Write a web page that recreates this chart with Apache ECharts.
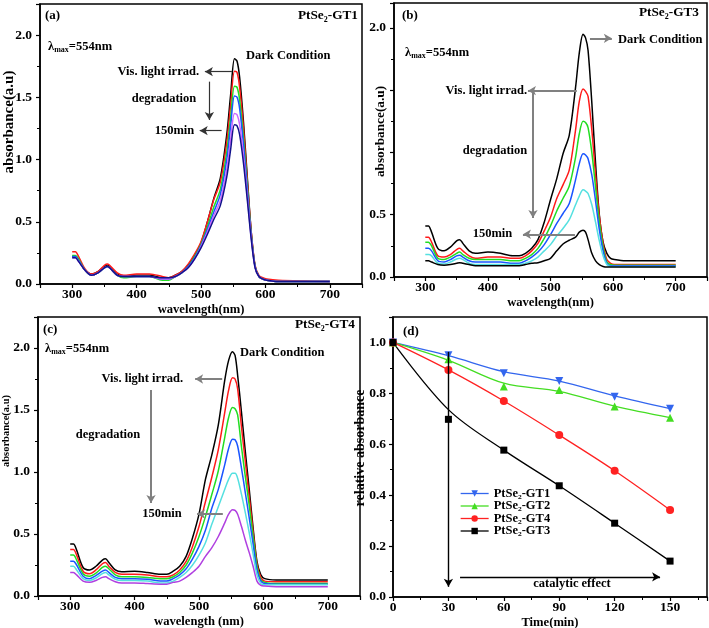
<!DOCTYPE html>
<html>
<head>
<meta charset="utf-8">
<script src="https://cdn.jsdelivr.net/npm/echarts@6.0.0/dist/echarts.min.js"></script>
<style>
html,body{margin:0;padding:0;background:#fff;}
#chart{width:709px;height:628px;}
</style>
</head>
<body>
<div id="chart"></div>
<script>
// ---------- data ----------
const W = [300,305,310,320,330,340,350,355,360,370,380,400,420,440,450,460,470,480,490,500,510,520,530,540,546,552,556,560,566,572,578,584,590,596,602,620,700];

// (a) PtSe2-GT1
const aDark    = [0.22,0.22,0.19,0.11,0.08,0.10,0.14,0.15,0.13,0.08,0.06,0.07,0.07,0.05,0.05,0.07,0.10,0.15,0.23,0.33,0.50,0.69,0.85,1.20,1.52,1.81,1.79,1.66,1.30,0.85,0.42,0.14,0.06,0.04,0.03,0.02,0.02];
const aRed     = [0.26,0.26,0.22,0.12,0.08,0.10,0.15,0.16,0.14,0.09,0.07,0.08,0.08,0.06,0.05,0.07,0.10,0.16,0.24,0.34,0.50,0.68,0.82,1.14,1.44,1.71,1.70,1.58,1.25,0.82,0.42,0.15,0.07,0.05,0.04,0.03,0.02];
const aGreen   = [0.23,0.23,0.20,0.11,0.07,0.09,0.13,0.14,0.12,0.07,0.05,0.06,0.06,0.03,0.03,0.06,0.09,0.14,0.22,0.32,0.46,0.62,0.76,1.06,1.34,1.59,1.58,1.48,1.17,0.78,0.40,0.14,0.06,0.04,0.03,0.02,0.02];
const aBlue    = [0.22,0.22,0.19,0.11,0.07,0.09,0.13,0.14,0.12,0.07,0.06,0.06,0.06,0.04,0.04,0.06,0.09,0.14,0.21,0.31,0.44,0.58,0.72,1.00,1.27,1.51,1.50,1.41,1.12,0.75,0.39,0.14,0.06,0.04,0.03,0.02,0.02];
const aMagenta = [0.21,0.21,0.18,0.11,0.07,0.09,0.13,0.14,0.12,0.07,0.06,0.06,0.06,0.04,0.04,0.06,0.09,0.13,0.20,0.30,0.42,0.55,0.67,0.92,1.16,1.37,1.36,1.28,1.03,0.70,0.37,0.13,0.06,0.04,0.03,0.02,0.02];
const aNavy    = [0.21,0.21,0.18,0.11,0.07,0.09,0.13,0.14,0.12,0.07,0.06,0.06,0.06,0.05,0.05,0.06,0.09,0.13,0.20,0.29,0.40,0.52,0.63,0.86,1.08,1.28,1.27,1.20,0.97,0.67,0.36,0.13,0.06,0.04,0.03,0.02,0.02];

// (b) PtSe2-GT3
const bDark    = [0.41,0.41,0.36,0.23,0.21,0.24,0.29,0.30,0.27,0.21,0.19,0.20,0.19,0.17,0.17,0.19,0.23,0.30,0.44,0.62,0.79,0.99,1.14,1.52,1.80,1.95,1.92,1.82,1.40,0.91,0.50,0.28,0.19,0.15,0.14,0.13,0.13];
const bRed     = [0.32,0.32,0.28,0.17,0.16,0.18,0.22,0.23,0.21,0.17,0.15,0.16,0.16,0.15,0.15,0.17,0.21,0.27,0.37,0.48,0.63,0.74,0.86,1.18,1.41,1.51,1.49,1.45,1.18,0.82,0.49,0.27,0.14,0.11,0.10,0.10,0.10];
const bGreen   = [0.28,0.28,0.25,0.15,0.14,0.16,0.19,0.20,0.18,0.15,0.14,0.14,0.14,0.13,0.13,0.15,0.18,0.23,0.31,0.41,0.53,0.63,0.73,0.96,1.15,1.25,1.24,1.20,1.00,0.72,0.44,0.24,0.12,0.10,0.095,0.095,0.095];
const bBlue    = [0.23,0.23,0.21,0.13,0.12,0.14,0.17,0.175,0.16,0.13,0.12,0.12,0.12,0.11,0.11,0.13,0.16,0.20,0.26,0.34,0.43,0.51,0.59,0.78,0.91,0.99,0.98,0.95,0.82,0.61,0.38,0.21,0.11,0.09,0.09,0.09,0.09];
const bCyan    = [0.18,0.18,0.17,0.11,0.105,0.12,0.145,0.15,0.14,0.11,0.10,0.10,0.10,0.10,0.10,0.11,0.13,0.16,0.21,0.26,0.33,0.39,0.46,0.58,0.65,0.70,0.69,0.67,0.58,0.44,0.29,0.17,0.10,0.085,0.085,0.085,0.085];
const b150     = [0.13,0.13,0.12,0.10,0.095,0.10,0.11,0.115,0.11,0.10,0.09,0.09,0.09,0.09,0.09,0.10,0.11,0.115,0.13,0.15,0.21,0.265,0.295,0.32,0.36,0.376,0.36,0.30,0.19,0.13,0.10,0.085,0.08,0.08,0.08,0.08,0.08];

// (c) PtSe2-GT4
const cDark    = [0.42,0.42,0.37,0.23,0.21,0.24,0.29,0.30,0.27,0.21,0.195,0.20,0.19,0.175,0.175,0.20,0.24,0.32,0.47,0.66,0.94,1.14,1.38,1.74,1.90,1.97,1.94,1.78,1.48,1.16,0.86,0.55,0.28,0.17,0.14,0.13,0.13];
const cRed     = [0.375,0.375,0.33,0.20,0.18,0.21,0.26,0.27,0.24,0.19,0.175,0.175,0.17,0.155,0.155,0.17,0.21,0.28,0.40,0.56,0.76,0.96,1.18,1.48,1.66,1.76,1.75,1.67,1.36,1.08,0.80,0.52,0.26,0.15,0.12,0.115,0.115];
const cGreen   = [0.33,0.33,0.29,0.18,0.16,0.185,0.23,0.24,0.22,0.17,0.155,0.155,0.15,0.14,0.14,0.155,0.19,0.25,0.35,0.48,0.64,0.82,1.01,1.28,1.44,1.52,1.51,1.46,1.20,0.96,0.73,0.48,0.24,0.13,0.11,0.10,0.10];
const cBlue    = [0.28,0.28,0.25,0.16,0.14,0.165,0.20,0.21,0.19,0.15,0.14,0.14,0.135,0.12,0.12,0.14,0.17,0.22,0.30,0.40,0.53,0.71,0.86,1.06,1.19,1.265,1.26,1.21,1.03,0.83,0.63,0.42,0.21,0.12,0.10,0.095,0.095];
const cCyan    = [0.24,0.24,0.21,0.14,0.125,0.145,0.18,0.19,0.17,0.135,0.125,0.125,0.12,0.105,0.105,0.12,0.15,0.19,0.25,0.33,0.43,0.58,0.72,0.86,0.94,0.99,0.99,0.95,0.82,0.67,0.51,0.34,0.17,0.10,0.09,0.09,0.09];
const cMagenta = [0.19,0.19,0.17,0.12,0.11,0.125,0.15,0.155,0.14,0.115,0.105,0.105,0.10,0.095,0.095,0.11,0.12,0.15,0.19,0.24,0.32,0.39,0.48,0.59,0.66,0.695,0.69,0.66,0.56,0.45,0.35,0.24,0.12,0.085,0.08,0.075,0.075];

// (d) relative absorbance vs time
const T = [0,30,60,90,120,150];
const gt1 = [1.0,0.950,0.879,0.849,0.787,0.740];
const gt2 = [1.0,0.934,0.827,0.813,0.748,0.704];
const gt4 = [1.0,0.892,0.770,0.636,0.496,0.342];
const gt3 = [1.0,0.698,0.577,0.437,0.290,0.141];
const gt1Fit = [1.0,0.948,0.885,0.848,0.790,0.740];
const gt2Fit = [1.0,0.930,0.840,0.808,0.750,0.705];
const gt4Fit = [1.0,0.892,0.770,0.636,0.496,0.342];
const gt3Fit = [1.0,0.736,0.577,0.437,0.290,0.141];

// ---------- styling ----------
const FONT = "'Liberation Serif','Times New Roman',serif";
const AX = {color:'#000', width:1.5};

function xAxisW(gi, name, gap) {
  return {
    type:'value', gridIndex:gi, min:250, max:750, splitNumber:5,
    name:name, nameLocation:'middle', nameGap:gap,
    nameTextStyle:{fontFamily:FONT, fontWeight:'bold', fontSize:12.6, color:'#000'},
    axisLine:{show:true, onZero:false, lineStyle:AX},
    axisTick:{show:true, length:4, lineStyle:{color:'#000', width:1.2}},
    minorTick:{show:true, splitNumber:2, length:3, lineStyle:{color:'#000', width:1}},
    splitLine:{show:false}, minorSplitLine:{show:false},
    axisLabel:{margin:4, fontFamily:FONT, fontWeight:'bold', fontSize:13.5, color:'#000',
      formatter:v => (v>=300 && v<=700 && Math.abs(v%100)<1e-6) ? String(Math.round(v)) : ''}
  };
}
function yAxisA(gi, max, hide) {
  return {
    type:'value', gridIndex:gi, min:0, max:max, interval:0.5,
    axisLine:{show:true, onZero:false, lineStyle:AX},
    axisTick:{show:true, length:4, lineStyle:{color:'#000', width:1.2}},
    minorTick:{show:true, splitNumber:2, length:3, lineStyle:{color:'#000', width:1}},
    splitLine:{show:false},
    axisLabel:{margin:8, fontFamily:FONT, fontWeight:'bold', fontSize:13.5, color:'#000',
      formatter:v => (v<=2.0001 && hide.indexOf(Math.round(v*10)/10)<0) ? v.toFixed(1) : ''}
  };
}

function spec(gi, arr, color, z) {
  return {
    type:'line', xAxisIndex:gi, yAxisIndex:gi,
    data: W.map((w,i)=>[w, arr[i]]),
    symbol:'none', showSymbol:false, smooth:0.3, silent:true,
    lineStyle:{color:color, width:1.5}, itemStyle:{color:color}, z:z||2
  };
}
function arrows(list, color, width) {
  return {
    silent:true, symbol:['none','arrow'], symbolSize:[7,8], animation:false,
    label:{show:false},
    lineStyle:{color:color, width:width, type:'solid'},
    emphasis:{disabled:true},
    data:list.map(p => [{coord:p[0]},{coord:p[1]}])
  };
}

function TXT(x,y,text,size,align,extra) {
  return Object.assign({type:'text', x:x, y:y, silent:true,
    style:{text:text, fontSize:size, fontWeight:'bold', fontFamily:FONT, fill:'#000',
      align:align||'left', verticalAlign:'middle'}}, extra||{});
}
function YT(x,y,text,size) {
  return {type:'text', x:x, y:y, rotation:Math.PI/2, silent:true,
    style:{text:text, fontSize:size, fontWeight:'bold', fontFamily:FONT, fill:'#000',
      align:'center', verticalAlign:'middle'}};
}
function LAM(x,y) {
  return {type:'text', x:x, y:y, silent:true,
    style:{text:'{l|λ}{s|max}{l|=554nm}', align:'left', verticalAlign:'middle',
      rich:{
        l:{fontSize:12.5, fontWeight:'bold', fontFamily:FONT, fill:'#000'},
        s:{fontSize:8, fontWeight:'bold', fontFamily:FONT, fill:'#000', verticalAlign:'bottom', padding:[4,0,0,0]}
      }}};
}

const GRID = {show:true, borderColor:'#000', borderWidth:1.5, backgroundColor:'transparent', containLabel:false, outerBoundsMode:'none'};

const series = [];
// (a)
const sa = spec(0, aDark, '#000000');
sa.markLine = arrows([
  [[548,1.706],[506,1.706]],
  [[513,1.626],[513,1.318]],
  [[532,1.232],[498,1.232]]
], '#333', 1.2);
series.push(sa, spec(0,aRed,'#ff1a1a'), spec(0,aGreen,'#22dd22'), spec(0,aBlue,'#1a55ff'),
  spec(0,aMagenta,'#cc66ff'), spec(0,aNavy,'#12128c',3));
// (b)
const sb = spec(1, bDark, '#000000');
sb.markLine = arrows([
  [[563,1.916],[598,1.916]],
  [[542,1.496],[464,1.496]],
  [[472,1.477],[472,0.474]],
  [[539,0.343],[456,0.343]]
], '#808080', 2);
series.push(sb, spec(1,bRed,'#ff1a1a'), spec(1,bGreen,'#22dd22'), spec(1,bBlue,'#1a55ff'),
  spec(1,bCyan,'#55e0e0'), spec(1,b150,'#000000'));
// (c)
const sc = spec(2, cDark, '#000000');
sc.markLine = arrows([
  [[536,1.75],[494,1.75]],
  [[425.5,1.661],[425.5,0.75]],
  [[537,0.661],[497,0.661]]
], '#808080', 2);
series.push(sc, spec(2,cRed,'#ff1a1a'), spec(2,cGreen,'#22dd22'), spec(2,cBlue,'#1a55ff'),
  spec(2,cCyan,'#55e0e0'), spec(2,cMagenta,'#b040e0'));

// (d)
const D = [
  {name:'PtSe₂-GT1', m:gt1, f:gt1Fit, color:'#3366ee', symbol:'triangle', rot:180},
  {name:'PtSe₂-GT2', m:gt2, f:gt2Fit, color:'#44dd22', symbol:'triangle', rot:0},
  {name:'PtSe₂-GT4', m:gt4, f:gt4Fit, color:'#ff2222', symbol:'circle', rot:0},
  {name:'PtSe₂-GT3', m:gt3, f:gt3Fit, color:'#000000', symbol:'rect', rot:0}
];
D.forEach((d,k) => {
  const fit = {type:'line', xAxisIndex:3, yAxisIndex:3, data:T.map((t,i)=>[t,d.f[i]]),
    symbol:'none', showSymbol:false, smooth:0.35, silent:true,
    lineStyle:{color:d.color, width:1.3}, itemStyle:{color:d.color}, z:3};
  if (k===0) {
    fit.markLine = arrows([
      [[30,0.963],[30,0.04]],
      [[36.3,0.079],[144.6,0.079]]
    ], '#000', 1.4);
  }
  series.push(fit);
  series.push({type:'line', name:d.name, xAxisIndex:3, yAxisIndex:3, data:T.map((t,i)=>[t,d.m[i]]),
    symbol:d.symbol, symbolRotate:d.rot, symbolSize:d.symbol==='rect'?7:8, showSymbol:true,
    lineStyle:{color:d.color, width:1.3, opacity:0}, itemStyle:{color:d.color}, z:4});
});

const option = {
  animation:false,
  backgroundColor:'#fff',
  grid:[
    Object.assign({left:40, top:4, width:322, height:280}, GRID),
    Object.assign({left:394, top:3, width:313, height:274}, GRID),
    Object.assign({left:38, top:317, width:322, height:279}, GRID),
    Object.assign({left:393, top:317, width:314, height:280}, GRID)
  ],
  xAxis:[
    xAxisW(0,'wavelength(nm)',16),
    xAxisW(1,'wavelength(nm)',18),
    xAxisW(2,'wavelength (nm)',19),
    {
      type:'value', gridIndex:3, min:0, max:170, interval:30,
      name:'Time(min)', nameLocation:'middle', nameGap:18,
      nameTextStyle:{fontFamily:FONT, fontWeight:'bold', fontSize:12.6, color:'#000'},
      axisLine:{show:true, onZero:false, lineStyle:AX},
      axisTick:{show:true, length:4, lineStyle:{color:'#000', width:1.2}},
      minorTick:{show:true, splitNumber:2, length:3, lineStyle:{color:'#000', width:1}},
      splitLine:{show:false},
      axisLabel:{margin:4, fontFamily:FONT, fontWeight:'bold', fontSize:13.5, color:'#000',
        formatter:v => v<=150 ? String(Math.round(v)) : ''}
    }
  ],
  yAxis:[
    yAxisA(0, 2.25, []),
    yAxisA(1, 2.2, [1.0,1.5]),
    yAxisA(2, 2.25, []),
    {
      type:'value', gridIndex:3, min:0, max:1.1, interval:0.2,
      axisLine:{show:true, onZero:false, lineStyle:AX},
      axisTick:{show:true, length:4, lineStyle:{color:'#000', width:1.2}},
      minorTick:{show:true, splitNumber:2, length:3, lineStyle:{color:'#000', width:1}},
      splitLine:{show:false},
      axisLabel:{margin:7, fontFamily:FONT, fontWeight:'bold', fontSize:13.5, color:'#000',
        formatter:v => v<=1.0001 ? v.toFixed(1) : ''}
    }
  ],
  legend:{
    orient:'vertical', left:455, top:482, itemWidth:28, itemHeight:8, itemGap:-0.5,
    textStyle:{fontFamily:FONT, fontWeight:'bold', fontSize:12.5, color:'#000'},
    selectedMode:false,
    data:D.map(d => ({name:d.name, lineStyle:{opacity:1, width:1.3, color:d.color}}))
  },
  series:series,
  graphic:[
    // (a)
    TXT(45,16,'(a)',13), TXT(358,16,'PtSe₂-GT1',13.3,'right'), LAM(48,47),
    TXT(246,56,'Dark Condition',12.5), TXT(199,72,'Vis. light irrad.',12.5,'right'),
    TXT(164,99,'degradation',12.5,'center'), TXT(174.5,130.5,'150min',12.5,'center'),
    YT(9,122,'absorbance(a.u)',15),
    // (b)
    TXT(402,16,'(b)',13), TXT(699,13,'PtSe₂-GT3',13.3,'right'), LAM(405,53),
    TXT(618,40,'Dark Condition',12.5), TXT(527,91,'Vis. light irrad.',12.5,'right'),
    TXT(495,151,'degradation',12.5,'center'), TXT(492.5,234,'150min',12.5,'center'),
    YT(381,131.5,'absorbance(a.u)',13.3),
    // (c)
    TXT(43,330,'(c)',13), TXT(355,325,'PtSe₂-GT4',13.3,'right'), LAM(45,349),
    TXT(240,353,'Dark Condition',12.5), TXT(183,379,'Vis. light irrad.',12.5,'right'),
    TXT(108,435,'degradation',12.5,'center'), TXT(162,514,'150min',12.5,'center'),
    YT(6,431,'absorbance(a.u)',10.5),
    // (d)
    TXT(403,332,'(d)',13), TXT(572,584,'catalytic effect',12.5,'center'),
    YT(360,448,'relative absorbance',14)
  ]
};

const chart = echarts.init(document.getElementById('chart'), null, {renderer:'canvas'});
chart.setOption(option);
</script>
</body>
</html>
